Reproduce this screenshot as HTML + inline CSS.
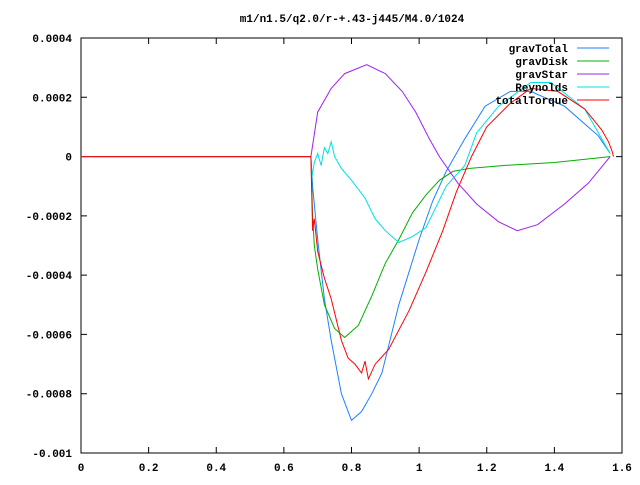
<!DOCTYPE html>
<html><head><meta charset="utf-8"><style>
body{margin:0;background:#fff}
svg text{font-family:"Liberation Mono",monospace;font-size:11px;font-weight:bold;fill:#000}
</style></head><body>
<svg id="chart" width="640" height="480" xmlns="http://www.w3.org/2000/svg">
<text x="352" y="22" text-anchor="middle">m1/n1.5/q2.0/r-+.43-j445/M4.0/1024</text>
<g id="axes"></g><g id="series"></g><g id="legend"></g>
</svg>
<script>
const xTicks=[0,0.2,0.4,0.6,0.8,1,1.2,1.4,1.6];
const xTickLabels=["0","0.2","0.4","0.6","0.8","1","1.2","1.4","1.6"];
const yTicks=[0.0004,0.0002,0,-0.0002,-0.0004,-0.0006,-0.0008,-0.001];
const yTickLabels=["0.0004","0.0002","0","-0.0002","-0.0004","-0.0006","-0.0008","-0.001"];
const seriesNames=["gravTotal","gravDisk","gravStar","Reynolds","totalTorque"];
const seriesColors=["#1f7fff","#00b000","#a020f0","#00e0e0","#ff0000"];
const gravTotal=[[0,0],[0.68,0],[0.685,-0.0001],[0.70,-0.00028],[0.72,-0.00048],[0.74,-0.00062],[0.77,-0.0008],[0.8,-0.00089],[0.83,-0.00086],[0.86,-0.0008],[0.89,-0.00073],[0.94,-0.0005],[1.0,-0.00028],[1.04,-0.00015],[1.08,-0.00005],[1.135,0.00006],[1.195,0.00017],[1.27,0.00022],[1.33,0.00022],[1.43,0.00017],[1.53,0.00007],[1.565,0.00001]];
const gravDisk=[[0,0],[0.68,0],[0.685,-0.0002],[0.69,-0.0003],[0.7,-0.00038],[0.72,-0.0005],[0.75,-0.00058],[0.78,-0.00061],[0.82,-0.00057],[0.86,-0.00047],[0.9,-0.00036],[0.94,-0.00028],[0.98,-0.00019],[1.02,-0.00013],[1.06,-0.00008],[1.1,-0.00005],[1.15,-0.00004],[1.25,-0.00003],[1.4,-0.00002],[1.565,0]];
const gravStar=[[0,0],[0.68,0],[0.70,0.00015],[0.74,0.00023],[0.78,0.00028],[0.845,0.00031],[0.9,0.00028],[0.95,0.00022],[0.99,0.00015],[1.03,0.00006],[1.06,0],[1.115,-0.00009],[1.17,-0.00016],[1.235,-0.00022],[1.29,-0.00025],[1.35,-0.00023],[1.43,-0.00016],[1.5,-0.00009],[1.565,0]];
const reynolds=[[0,0],[0.68,0],[0.683,-0.00007],[0.69,-0.00002],[0.70,0.00001],[0.71,-0.00003],[0.72,0.00003],[0.73,0.00001],[0.74,0.00005],[0.75,0.0],[0.77,-0.00004],[0.8,-0.00008],[0.84,-0.00014],[0.87,-0.00021],[0.9,-0.00025],[0.94,-0.00029],[0.98,-0.00027],[1.02,-0.00024],[1.08,-0.0001],[1.135,-0.00003],[1.17,0.00008],[1.235,0.00017],[1.33,0.00025],[1.39,0.00025],[1.49,0.00016],[1.565,0.00001]];
const totalTorque=[[0,0],[0.68,0],[0.685,-0.00025],[0.69,-0.00021],[0.70,-0.00032],[0.72,-0.00041],[0.74,-0.00048],[0.77,-0.00062],[0.79,-0.00068],[0.81,-0.0007],[0.83,-0.00073],[0.84,-0.00069],[0.85,-0.00075],[0.87,-0.0007],[0.91,-0.00065],[0.97,-0.00052],[1.02,-0.00039],[1.07,-0.00025],[1.11,-0.00012],[1.155,0.0],[1.2,0.0001],[1.27,0.00018],[1.33,0.00023],[1.41,0.00022],[1.49,0.00016],[1.54,0.00009],[1.56,0.00005],[1.57,0.00002],[1.575,0]];
const allSeries=[gravTotal,gravDisk,gravStar,reynolds,totalTorque];
const L=81,R=622,T=38,B=453,xMin=0,xMax=1.6,yMin=-0.001,yMax=0.0004;
const sx=v=>L+(v-xMin)/(xMax-xMin)*(R-L);
const sy=v=>B-(v-yMin)/(yMax-yMin)*(B-T);
const NS="http://www.w3.org/2000/svg";
function mk(tag,attrs,parent){const e=document.createElementNS(NS,tag);for(const k in attrs)e.setAttribute(k,attrs[k]);parent.appendChild(e);return e;}
const axes=document.getElementById('axes');
const frame=mk('rect',{x:L,y:T,width:R-L,height:B-T,fill:'none',stroke:'#000','stroke-width':1},axes);


xTicks.forEach((v,i)=>{const x=sx(v);
 const t=mk('path',{d:`M${x} ${B}v-6M${x} ${T}v6`,stroke:'#000',fill:'none'},axes);
 
 
 const l=mk('text',{x:x,y:B+18,'text-anchor':'middle'},axes);l.textContent=xTickLabels[i];
 
 });
yTicks.forEach((v,i)=>{const y=sy(v);
 const t=mk('path',{d:`M${L} ${y}h6M${R} ${y}h-6`,stroke:'#000',fill:'none'},axes);
 
 
 const l=mk('text',{x:72,y:y+4,'text-anchor':'end'},axes);l.textContent=yTickLabels[i];
 
 });
const sg=document.getElementById('series');
allSeries.forEach((s,i)=>{
 const p=mk('polyline',{points:s.map(d=>sx(d[0]).toFixed(1)+','+sy(d[1]).toFixed(1)).join(' '),fill:'none',stroke:seriesColors[i],'stroke-width':1},sg);
 
 });
const lg=document.getElementById('legend');
seriesNames.forEach((n,i)=>{const y=48+i*13;
 const t=mk('text',{x:568,y:y+4,'text-anchor':'end'},lg);t.textContent=n;
 
 
 const l=mk('line',{x1:577,x2:609,y1:y,y2:y,stroke:seriesColors[i]},lg);
 
 });
</script>
</body></html>
